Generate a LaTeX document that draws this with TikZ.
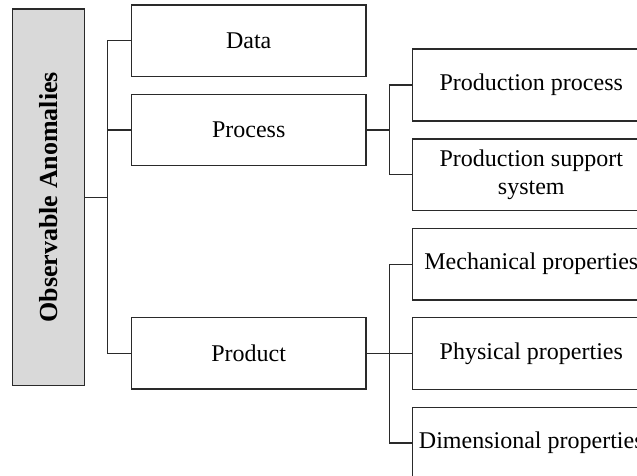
\documentclass[tikz,border=0pt]{standalone}
\usepackage{fontspec}
\setmainfont{Liberation Serif}
\definecolor{rootgray}{HTML}{D9D9D9}
\definecolor{edge}{HTML}{2A2A2A}
\begin{document}
\begin{tikzpicture}[x=1pt,y=-1pt,
  box/.style={draw=edge, line width=1.4pt, fill=white, inner sep=0pt, align=center,
    font=\fontsize{24}{27.5}\selectfont},
  lone/.style={box, minimum width=234.7pt, minimum height=71.5pt},
  ltwo/.style={box, minimum width=238pt, minimum height=71.8pt},
  rootbox/.style={draw=edge, line width=1.4pt, fill=rootgray, inner sep=0pt,
    minimum width=72pt, minimum height=376.7pt},
  conn/.style={draw=edge, line width=1.3pt}]
\useasboundingbox (0,0) rectangle (637,475);
\clip (0,0) rectangle (637,475);
\node[rootbox] (root) at (48.7,197.3) {};
\node[rotate=90, font=\fontsize{26}{30}\selectfont\bfseries] (roottext) at (root.center) {Observable Anomalies};
\node[lone] (data) at (248.7,40.8) {Data};
\node[lone] (process) at (248.7,130) {Process};
\node[lone] (product) at (248.7,353.3) {Product};
\node[ltwo] (pp) at (531.3,85) {Production process};
\node[ltwo] (pss) at (531.3,174.7) {Production support\\system};
\node[ltwo] (mech) at (531.3,264.2) {Mechanical properties};
\node[ltwo] (phys) at (531.3,353.5) {Physical properties};
\node[ltwo] (dim) at (531.3,443.1) {Dimensional properties};
\coordinate (t1) at (107.7,197.3);
\coordinate (t2) at (389.3,130);
\coordinate (t3) at (389.3,353.3);
\draw[conn] (root.east) -- (t1);
\draw[conn] (data.west) -| (t1);
\draw[conn] (process.west) -| (t1);
\draw[conn] (product.west) -| (t1);
\draw[conn] (process.east) -- (t2);
\draw[conn] (pp.west) -| (t2);
\draw[conn] (pss.west) -| (t2);
\draw[conn] (product.east) -- (t3);
\draw[conn] (mech.west) -| (t3);
\draw[conn] (phys.west) -| (t3);
\draw[conn] (dim.west) -| (t3);
\end{tikzpicture}
\end{document}
